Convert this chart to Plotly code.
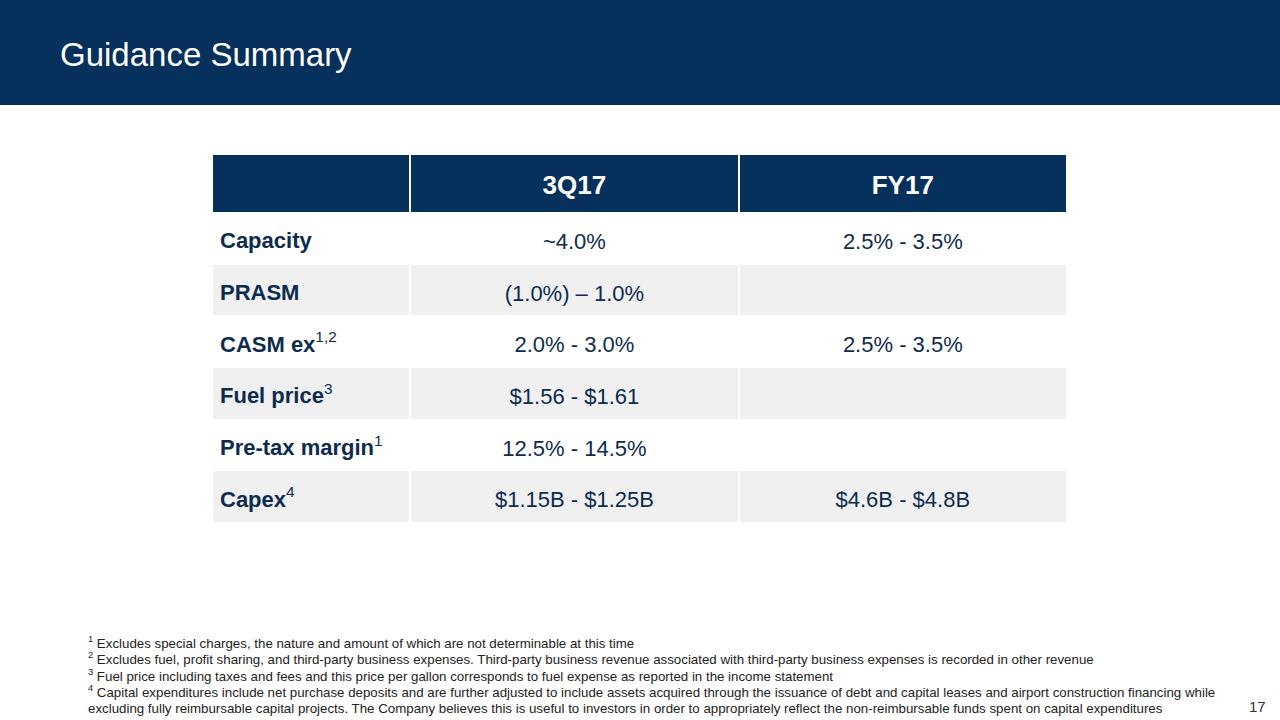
import numpy as np
import plotly.graph_objects as go

# guidance table content
columns = ["", "3Q17", "FY17"]
metrics = ["Capacity", "PRASM", "CASM ex", "Fuel price", "Pre-tax margin", "Capex"]
metric_notes = ["", "", "1,2", "3", "1", "4"]
q3_17 = ["~4.0%", "(1.0%) – 1.0%", "2.0% - 3.0%", "$1.56 - $1.61", "12.5% - 14.5%", "$1.15B - $1.25B"]
fy_17 = ["2.5% - 3.5%", "", "2.5% - 3.5%", "", "", "$4.6B - $4.8B"]

footnotes = [
    "<sup>1</sup> Excludes special charges, the nature and amount of which are not determinable at this time",
    "<sup>2</sup> Excludes fuel, profit sharing, and third-party business expenses. Third-party business revenue associated with third-party business expenses is recorded in other revenue",
    "<sup>3</sup> Fuel price including taxes and fees and this price per gallon corresponds to fuel expense as reported in the income statement",
    "<sup>4</sup> Capital expenditures include net purchase deposits and are further adjusted to include assets acquired through the issuance of debt and capital leases and airport construction financing while",
    "excluding fully reimbursable capital projects. The Company believes this is useful to investors in order to appropriately reflect the non-reimbursable funds spent on capital expenditures",
]
page_no = "17"

NAVY = "#05315c"
TEXT = "#0e2b50"
GRAY = "#f0f0f0"
FONT = "Liberation Sans, Arial, sans-serif"

W, H = 1280, 720
# table box on the slide (px) and its grid
TL, TR, TT, TB = 212, 1067, 155, 523
col_w = [198, 328, 328]
head_h = 58
row_h = (TB - TT - head_h) / len(metrics)

x_edges = np.concatenate([[0], np.cumsum(col_w)])
y_edges = np.concatenate([[0], head_h + row_h * np.arange(len(metrics) + 1)])
x_mid = (x_edges[:-1] + x_edges[1:]) / 2
y_mid = (y_edges[:-1] + y_edges[1:]) / 2

# 2 = header, 1 = shaded row, 0 = white row
z = [[2, 2, 2]] + [[i % 2] * 3 for i in range(len(metrics))]

labels = ["<b>%s</b>" % m + ("<sup>%s</sup>" % n if n else "") for m, n in zip(metrics, metric_notes)]

fig = go.Figure()

fig.add_trace(go.Heatmap(
    x=x_edges, y=y_edges, z=z, zmin=0, zmax=2,
    colorscale=[[0, "white"], [0.25, "white"], [0.25, GRAY], [0.75, GRAY], [0.75, NAVY], [1, NAVY]],
    showscale=False, xgap=2, ygap=1, hoverinfo="skip",
))

# header labels
fig.add_trace(go.Scatter(
    x=x_mid[1:], y=[y_mid[0] + 3] * 2, mode="text", text=["<b>%s</b>" % c for c in columns[1:]],
    textposition="middle center", textfont=dict(family=FONT, size=26, color="white"),
    hoverinfo="skip", showlegend=False,
))

# row labels, left aligned
fig.add_trace(go.Scatter(
    x=[8] * len(metrics), y=y_mid[1:] + 4, mode="text", text=labels,
    textposition="middle right", textfont=dict(family=FONT, size=22, color=TEXT),
    hoverinfo="skip", showlegend=False,
))

# values
fig.add_trace(go.Scatter(
    x=[x_mid[1]] * len(metrics) + [x_mid[2]] * len(metrics),
    y=list(y_mid[1:] + 4.5) * 2, mode="text", text=q3_17 + fy_17,
    textposition="middle center", textfont=dict(family=FONT, size=22, color=TEXT),
    hoverinfo="skip", showlegend=False,
))

fig.add_shape(type="rect", xref="paper", yref="paper", x0=0, x1=1, y0=1 - 105 / H, y1=1,
              fillcolor=NAVY, line_width=0, layer="below")

fig.add_annotation(x=58 / W, y=1 - 55 / H, xref="paper", yref="paper", xanchor="left", yanchor="middle",
                   text="Guidance Summary", showarrow=False,
                   font=dict(family=FONT, size=33, color="white"))

for i, t in enumerate(footnotes):
    fig.add_annotation(x=86 / W, y=1 - (642 + i * 16.5) / H, xref="paper", yref="paper",
                       xanchor="left", yanchor="middle", text=t, showarrow=False,
                       font=dict(family=FONT, size=13.3, color="#222222"))

fig.add_annotation(x=1268 / W, y=1 - 706 / H, xref="paper", yref="paper", xanchor="right", yanchor="middle",
                   text=page_no, showarrow=False,
                   font=dict(family=FONT, size=15, color="#333333"))

fig.update_xaxes(domain=[TL / W, TR / W], range=[0, x_edges[-1]], visible=False, fixedrange=True)
fig.update_yaxes(domain=[1 - TB / H, 1 - TT / H], range=[y_edges[-1], 0], visible=False, fixedrange=True)

fig.update_layout(width=W, height=H, margin=dict(l=0, r=0, t=0, b=0),
                  paper_bgcolor="white", plot_bgcolor="white", showlegend=False)

fig.write_html("out.html", config={"displayModeBar": False},
               post_script="document.body.style.margin='0';")
